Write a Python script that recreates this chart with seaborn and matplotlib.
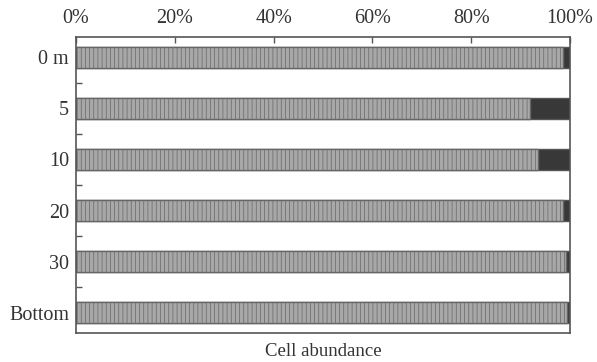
import matplotlib
matplotlib.use("Agg")
import matplotlib.pyplot as plt
import seaborn as sns
import pandas as pd

depths = ["0 m", "5", "10", "20", "30", "Bottom"]
group_a = [98.6, 92.0, 93.5, 98.6, 99.1, 99.3]   # light grey share, %
group_b = [1.4, 8.0, 6.5, 1.4, 0.9, 0.7]         # dark share, %
x_ticks = [0, 20, 40, 60, 80, 100]

df = pd.DataFrame({"depth": depths, "a": group_a, "b": group_b})
df["total"] = df["a"] + df["b"]

sns.set_theme(style="white")
plt.rcParams["font.family"] = ["Liberation Serif", "DejaVu Serif"]
plt.rcParams["hatch.color"] = "#999999"
plt.rcParams["hatch.linewidth"] = 0.5

fig = plt.figure(figsize=(5.97, 3.62), dpi=100)
ax = fig.add_axes([76 / 597, 1 - 333 / 362, 494 / 597, 296 / 362])

sns.barplot(data=df, y="depth", x="total", orient="h", color="#383838",
            saturation=1, width=0.41, edgecolor="#555555", linewidth=1.0, ax=ax)
sns.barplot(data=df, y="depth", x="a", orient="h", color="#a8a8a8",
            saturation=1, width=0.41, edgecolor="#666666", linewidth=1.0,
            hatch="||||", ax=ax)

ax.set_xlim(0, 100)
ax.set_ylim(5.4, -0.4)
ax.xaxis.tick_top()
ax.set_xticks(x_ticks)
ax.set_xticklabels([f"{t}%" for t in x_ticks], fontsize=14.5, color="#333333")
ax.tick_params(axis="x", direction="in", length=4, width=1, color="#555555", pad=6.5)
ax.set_yticks(range(len(depths)))
ax.set_yticklabels(depths, fontsize=14.5, color="#333333")
ax.tick_params(axis="y", which="major", length=0, pad=5)
ax.set_yticks([i + 0.5 for i in range(len(depths) - 1)], minor=True)
ax.tick_params(axis="y", which="minor", direction="in", length=4, width=1,
               color="#555555", left=True)
ax.set_ylabel("")
ax.set_xlabel("")
for s in ax.spines.values():
    s.set_color("#555555")
    s.set_linewidth(1.2)

fig.text(323 / 597, 1 - 352 / 362, "Cell abundance", ha="center", va="center",
         fontsize=13.5, color="#333333")

fig.savefig("out.png", dpi=100, facecolor="white")
